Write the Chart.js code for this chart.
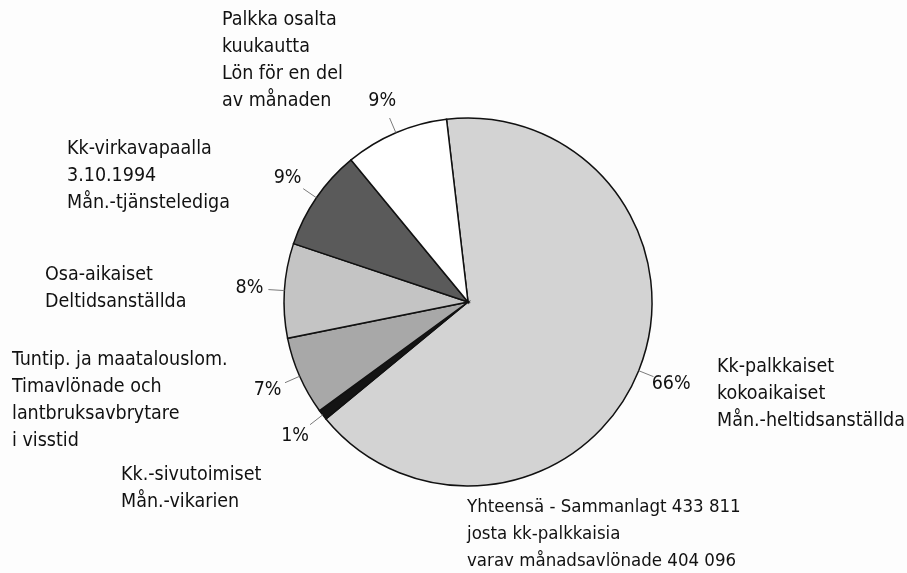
<!DOCTYPE html>
<html>
<head>
<meta charset="utf-8">
<script src="https://cdn.jsdelivr.net/npm/chart.js@4/dist/chart.umd.min.js"></script>
<style>
  html, body { margin: 0; padding: 0; background: #fdfdfd; }
  #c { display: block; }
</style>
</head>
<body>
<canvas id="c" width="907" height="573"></canvas>
<script>
// ---- data ----
const categories = [
  ["Kk-palkkaiset", "kokoaikaiset", "Mån.-heltidsanställda"],
  ["Kk.-sivutoimiset", "Mån.-vikarien"],
  ["Tuntip. ja maatalouslom.", "Timavlönade och", "lantbruksavbrytare", "i visstid"],
  ["Osa-aikaiset", "Deltidsanställda"],
  ["Kk-virkavapaalla", "3.10.1994", "Mån.-tjänstelediga"],
  ["Palkka osalta", "kuukautta", "Lön för en del", "av månaden"]
];
const shares = [65.9, 0.9, 6.9, 8.3, 8.9, 9.1];
const noteLines = [
  "Yhteensä - Sammanlagt 433 811",
  "josta kk-palkkaisia",
  "varav månadsavlönade 404 096"
];

// ---- styles / layout ----
const sliceColors = ["#d3d3d3", "#141414", "#a8a8a8", "#c4c4c4", "#5a5a5a", "#ffffff"];
const catLabelPos = [[717, 367], [121, 475], [12, 360], [45, 275], [67, 149], [222, 20]];
const notePos = [467, 507];
const FONT = '19.5px "Liberation Sans Narrow", "DejaVu Sans Condensed", "Arial Narrow", sans-serif';
const NOTE_FONT = '18.5px "Liberation Sans Narrow", "DejaVu Sans Condensed", "Arial Narrow", sans-serif';
const LINE_H = 27;
const TEXT_COLOR = "#111";

const labelPlugin = {
  id: "pieLabels",
  afterDatasetsDraw(chart) {
    const ctx = chart.ctx;
    const meta = chart.getDatasetMeta(0);
    const data = chart.data.datasets[0].data;
    const total = data.reduce((a, b) => a + b, 0);
    ctx.save();
    ctx.font = FONT;
    ctx.fillStyle = TEXT_COLOR;
    meta.data.forEach((arc, i) => {
      const p = arc.getProps(["x", "y", "startAngle", "endAngle", "outerRadius"], true);
      const mid = (p.startAngle + p.endAngle) / 2;
      const c = Math.cos(mid), s = Math.sin(mid);
      // leader
      ctx.strokeStyle = "#7a7a7a";
      ctx.lineWidth = 1;
      ctx.beginPath();
      ctx.moveTo(p.x + c * p.outerRadius, p.y + s * p.outerRadius);
      ctx.lineTo(p.x + c * (p.outerRadius + 16), p.y + s * (p.outerRadius + 16));
      ctx.stroke();
      // percent
      const pct = Math.round(data[i] / total * 100) + "%";
      const lr = p.outerRadius + 35;
      ctx.textAlign = "center";
      ctx.textBaseline = "middle";
      ctx.fillText(pct, p.x + c * lr, p.y + s * lr);
    });
    // category labels
    ctx.textAlign = "left";
    ctx.textBaseline = "middle";
    chart.data.labels.forEach((lines, i) => {
      const [x, y] = catLabelPos[i];
      lines.forEach((t, k) => ctx.fillText(t, x, y + k * LINE_H));
    });
    ctx.font = NOTE_FONT;
    noteLines.forEach((t, k) => ctx.fillText(t, notePos[0], notePos[1] + k * LINE_H));
    ctx.restore();
  }
};

new Chart(document.getElementById("c"), {
  type: "pie",
  data: {
    labels: categories,
    datasets: [{
      data: shares,
      backgroundColor: sliceColors,
      borderColor: "#111",
      borderWidth: 1.5,
      borderJoinStyle: "miter"
    }]
  },
  options: {
    responsive: false,
    animation: false,
    rotation: -6.7,
    radius: 184,
    layout: { padding: { left: 284, right: 255, top: 118, bottom: 87 } },
    plugins: {
      legend: { display: false },
      tooltip: { enabled: false }
    }
  },
  plugins: [labelPlugin]
});
</script>
</body>
</html>
